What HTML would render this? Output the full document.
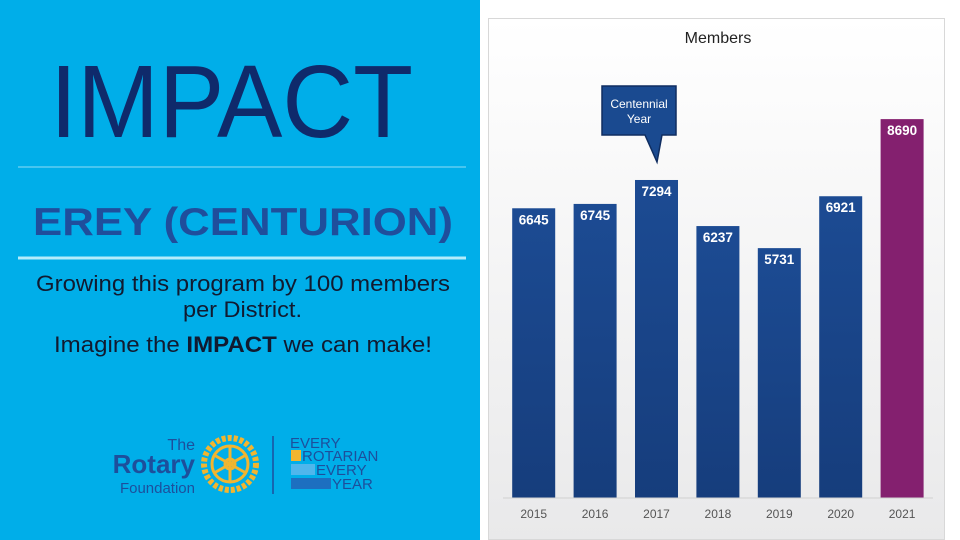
<!DOCTYPE html>
<html><head><meta charset="utf-8"><style>
html,body{margin:0;padding:0;width:960px;height:540px;overflow:hidden;background:#fff;font-family:"Liberation Sans",sans-serif}
#left{position:absolute;left:0;top:0;width:480px;height:540px;background:#00aee9}
#chartwrap{position:absolute;left:488px;top:18px;width:457px;height:522px;background:linear-gradient(#ffffff,#e9e9ea);border:1px solid #d8d8d8;box-sizing:border-box}
svg{position:absolute;left:0;top:0}
</style></head><body>
<div id="left"></div>
<div id="chartwrap"></div>
<svg width="960" height="540">
  <text x="50" y="137" font-size="103" fill="#0f2a6b" textLength="363" lengthAdjust="spacingAndGlyphs">IMPACT</text>
  <line x1="18" y1="167" x2="466" y2="167" stroke="#8fdcf5" stroke-width="1"/>
  <text x="33" y="235" font-size="39" font-weight="bold" fill="#1f4e9c" textLength="420" lengthAdjust="spacingAndGlyphs">EREY (CENTURION)</text>
  <line x1="18" y1="258" x2="466" y2="258" stroke="#b5ecfb" stroke-width="3"/>
  <g font-size="22" fill="#111a30">
    <text x="36" y="291" textLength="414" lengthAdjust="spacingAndGlyphs">Growing this program by 100 members</text>
    <text x="183" y="317" textLength="119" lengthAdjust="spacingAndGlyphs">per District.</text>
    <text x="54" y="352" textLength="378" lengthAdjust="spacingAndGlyphs">Imagine the <tspan font-weight="bold">IMPACT</tspan> we can make!</text>
  </g>
  <g>
    <text x="195" y="450" font-size="16" fill="#1d4f9c" text-anchor="end">The</text>
    <text x="195" y="473" font-size="26" font-weight="bold" fill="#1d4f9c" text-anchor="end">Rotary</text>
    <text x="195" y="493" font-size="15" fill="#1d4f9c" text-anchor="end">Foundation</text>
    <circle cx="230" cy="464" r="26" fill="none" stroke="#f2b52f" stroke-width="6" stroke-dasharray="4 2"/>
    <circle cx="230" cy="464" r="18" fill="none" stroke="#f2b52f" stroke-width="3"/>
    <circle cx="230" cy="464" r="5" fill="none" stroke="#f2b52f" stroke-width="3"/>
    <g stroke="#f2b52f" stroke-width="3">
      <line x1="230" y1="446" x2="230" y2="482"/><line x1="214" y1="455" x2="246" y2="473"/><line x1="214" y1="473" x2="246" y2="455"/>
    </g>
    <line x1="273" y1="436" x2="273" y2="494" stroke="#1d4f9c" stroke-width="1.5"/>
    <text x="290" y="448" font-size="15" fill="#1d4f9c">EVERY</text>
    <rect x="291" y="450" width="10" height="11" fill="#f2b52f"/>
    <text x="302" y="461" font-size="15" fill="#1d4f9c">ROTARIAN</text>
    <rect x="291" y="464" width="24" height="11" fill="#4fb6ec"/>
    <text x="316" y="475" font-size="15" fill="#1d4f9c">EVERY</text>
    <rect x="291" y="478" width="40" height="11" fill="#1d6fc0"/>
    <text x="332" y="489" font-size="15" fill="#1d4f9c">YEAR</text>
  </g>
  <g id="chart">
    <text x="718" y="43" font-size="16" fill="#222" text-anchor="middle">Members</text>
  </g>
  <g>
    <path d="M602,86 H676 V135 H662 L657,162 L645,135 H602 Z" fill="#1a4a90" stroke="#0f2d60" stroke-width="1.5"/>
    <text x="639" y="108" font-size="12" fill="#fff" text-anchor="middle">Centennial</text>
    <text x="639" y="123" font-size="12" fill="#fff" text-anchor="middle">Year</text>
  </g>
</svg>
<script>
const categories=["2015","2016","2017","2018","2019","2020","2021"];
const members=[6645,6745,7294,6237,5731,6921,8690];
const svgNS="http://www.w3.org/2000/svg";
const g=document.getElementById('chart');
const baseY=498, pxPerUnit=0.0436, x0=503, step=61.4, bw=43;
function yS(v){return baseY-v*pxPerUnit;}
function xS(i){return x0+i*step+(step-bw)/2;}
const defs=document.createElementNS(svgNS,'defs');
defs.innerHTML='<linearGradient id="gb" x1="0" y1="0" x2="0" y2="1"><stop offset="0" stop-color="#1c4b93"/><stop offset="1" stop-color="#163d7c"/></linearGradient>';
g.appendChild(defs);
categories.forEach((c,i)=>{
  const v=members[i];
  const r=document.createElementNS(svgNS,'rect');
  r.setAttribute('x',xS(i));r.setAttribute('y',yS(v));
  r.setAttribute('width',bw);r.setAttribute('height',baseY-yS(v));
  r.setAttribute('fill',i===categories.length-1?'#84206f':'url(#gb)');
  
  
  g.appendChild(r);
  const t=document.createElementNS(svgNS,'text');
  t.setAttribute('x',xS(i)+bw/2);t.setAttribute('y',yS(v)+16);
  t.setAttribute('font-size','14');t.setAttribute('font-weight','bold');
  t.setAttribute('fill','#fff');t.setAttribute('text-anchor','middle');
  t.setAttribute('textLength','30');t.setAttribute('lengthAdjust','spacingAndGlyphs');
  t.textContent=v;
  
  
  g.appendChild(t);
  const l=document.createElementNS(svgNS,'text');
  l.setAttribute('x',xS(i)+bw/2);l.setAttribute('y',518);
  l.setAttribute('font-size','12');l.setAttribute('fill','#555');l.setAttribute('text-anchor','middle');
  l.textContent=c;
  
  
  g.appendChild(l);
});
const ax=document.createElementNS(svgNS,'line');
ax.setAttribute('x1',503);ax.setAttribute('x2',933);ax.setAttribute('y1',baseY);ax.setAttribute('y2',baseY);
ax.setAttribute('stroke','#d0d0d0');


g.appendChild(ax);
</script>
</body></html>
